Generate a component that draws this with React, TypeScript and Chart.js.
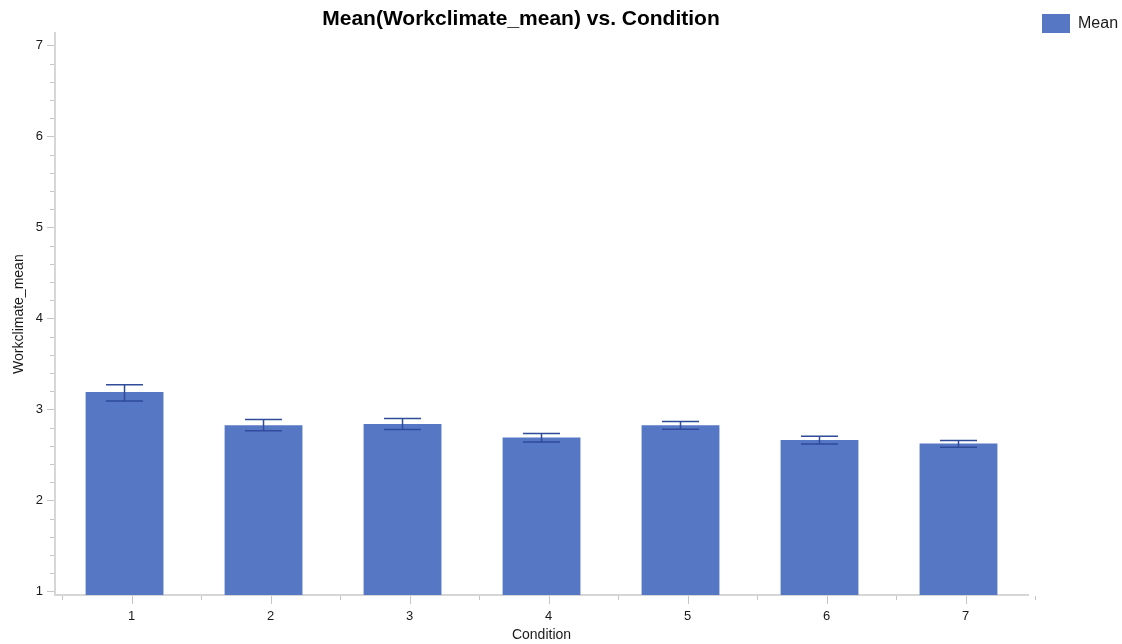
import React, { useEffect, useRef } from "react";
import { Chart, registerables } from "chart.js";

Chart.register(...registerables);

// ---- data ----
const conditions = ["1", "2", "3", "4", "5", "6", "7"];
const meanValues = [3.19, 2.825, 2.84, 2.69, 2.825, 2.663, 2.625];
const upperValues = [3.272, 2.888, 2.899, 2.734, 2.866, 2.706, 2.658];
const lowerValues = [3.093, 2.764, 2.778, 2.643, 2.783, 2.62, 2.585];
const yTickValues = [1, 2, 3, 4, 5, 6, 7];
const yMin = 0.96;
const yMax = 7.135;
const minorPerUnit = 5;

const chartTitle = "Mean(Workclimate_mean) vs. Condition";
const xTitle = "Condition";
const yTitle = "Workclimate_mean";
const seriesLabel = "Mean";

// ---- styles ----
const FONT = "'Liberation Sans', Arial, Helvetica, sans-serif";
const BAR_COLOR = "#5677C4";
const ERR_COLOR = "#2F4B9A";
const AXIS_COLOR = "#D6D6D6";
const TICK_COLOR = "#C6C6C6";
const TEXT_COLOR = "#1A1A1A";
const X_TICK_SHIFT = 7;

const titleSpanPlugin = {
  id: "titleSpan",
  afterLayout(chart: any) {
    const t = chart.titleBlock;
    const lg = chart.legend;
    if (t && lg) {
      t.left = 0;
      t.right = lg.left + lg.options.labels.padding;
      t.width = t.right - t.left;
    }
  },
};

const errorBarPlugin = {
  id: "errorBars",
  afterDatasetsDraw(chart: any) {
    const ctx = chart.ctx;
    const y = chart.scales.y;
    const meta = chart.getDatasetMeta(0);
    ctx.save();
    ctx.strokeStyle = ERR_COLOR;
    ctx.lineWidth = 1.5;
    meta.data.forEach((el: any, i: number) => {
      const cx = el.x;
      const yt = y.getPixelForValue(upperValues[i]);
      const yb = y.getPixelForValue(lowerValues[i]);
      const hw = 18.5;
      ctx.beginPath();
      ctx.moveTo(cx, yt);
      ctx.lineTo(cx, yb);
      ctx.moveTo(cx - hw, yt);
      ctx.lineTo(cx + hw, yt);
      ctx.moveTo(cx - hw, yb);
      ctx.lineTo(cx + hw, yb);
      ctx.stroke();
    });
    ctx.restore();
  },
};

const axisTicksPlugin = {
  id: "axisTicks",
  afterDraw(chart: any) {
    const ctx = chart.ctx;
    const xs = chart.scales.x;
    const ys = chart.scales.y;
    const area = chart.chartArea;
    ctx.save();
    ctx.strokeStyle = TICK_COLOR;
    ctx.lineWidth = 1;
    ctx.beginPath();
    // y minor ticks
    const nStart = Math.ceil(yMin * minorPerUnit);
    const nEnd = Math.floor(yMax * minorPerUnit);
    for (let n = nStart; n <= nEnd; n++) {
      if (n % minorPerUnit === 0) continue;
      const py = Math.round(ys.getPixelForValue(n / minorPerUnit)) + 0.5;
      ctx.moveTo(area.left - 5, py);
      ctx.lineTo(area.left - 1, py);
    }
    // x major ticks
    const yb = area.bottom + 1;
    for (let i = 0; i < conditions.length; i++) {
      const px = Math.round(xs.getPixelForValue(i) + X_TICK_SHIFT) + 0.5;
      ctx.moveTo(px, yb);
      ctx.lineTo(px, yb + 8);
    }
    // x minor ticks at category boundaries
    for (let i = 0; i <= conditions.length; i++) {
      const px = Math.round(xs.getPixelForValue(i - 0.5) + X_TICK_SHIFT) + 0.5;
      ctx.moveTo(px, yb);
      ctx.lineTo(px, yb + 4);
    }
    ctx.stroke();
    ctx.restore();
  },
};

export default function App() {
  const ref = useRef<HTMLCanvasElement>(null);

  useEffect(() => {
    if (!ref.current) return;
    Chart.defaults.font.family = FONT;
    Chart.defaults.color = TEXT_COLOR;
    const chart = new Chart(ref.current, {
      type: "bar",
      data: {
        labels: conditions,
        datasets: [
          {
            label: seriesLabel,
            data: meanValues,
            backgroundColor: BAR_COLOR,
            borderWidth: 0,
            base: yMin,
            barPercentage: 0.56,
            categoryPercentage: 1,
          } as any,
        ],
      },
      options: {
        animation: false,
        responsive: false,
        events: [],
        layout: { padding: { top: 0, right: 4, bottom: 0, left: 0 } },
        plugins: {
          tooltip: { enabled: false },
          title: {
            display: true,
            text: chartTitle,
            color: "#000",
            font: { family: FONT, size: 21, weight: "bold" },
            padding: { top: 7, bottom: 1 },
          },
          legend: {
            display: true,
            position: "right",
            align: "start",
            fullSize: true,
            maxWidth: 90,
            labels: {
              boxWidth: 28,
              boxHeight: 19,
              padding: 14,
              color: TEXT_COLOR,
              font: { family: FONT, size: 16 },
            },
          },
        },
        scales: {
          x: {
            type: "category",
            offset: true,
            grid: {
              display: true,
              drawOnChartArea: false,
              drawTicks: true,
              tickLength: 14,
              tickColor: "rgba(0,0,0,0)",
            },
            border: { display: true, color: AXIS_COLOR, width: 2 },
            ticks: {
              padding: 0,
              labelOffset: X_TICK_SHIFT,
              color: TEXT_COLOR,
              font: { family: FONT, size: 13 },
            },
            title: {
              display: true,
              text: xTitle,
              color: TEXT_COLOR,
              font: { family: FONT, size: 14 },
              padding: { top: 2.1, bottom: 0.5 },
            },
          },
          y: {
            type: "linear",
            min: yMin,
            max: yMax,
            afterBuildTicks: (scale: any) => {
              scale.ticks = yTickValues.map((v) => ({ value: v }));
            },
            grid: {
              display: true,
              drawOnChartArea: false,
              drawTicks: true,
              tickLength: 8,
              tickColor: TICK_COLOR,
            },
            border: { display: true, color: AXIS_COLOR, width: 2 },
            ticks: {
              padding: 4,
              color: TEXT_COLOR,
              font: { family: FONT, size: 13 },
              callback: (v: any) => String(v),
            },
            title: {
              display: true,
              text: yTitle,
              color: TEXT_COLOR,
              font: { family: FONT, size: 14 },
              padding: { top: 11, bottom: 4 },
            },
          },
        },
      },
      plugins: [titleSpanPlugin, errorBarPlugin, axisTicksPlugin],
    });
    return () => chart.destroy();
  }, []);

  return (
    <div style={{ position: "absolute", left: 0, top: 0, width: 1122, height: 644, background: "#fff" }}>
      <canvas ref={ref} width={1122} height={644} style={{ display: "block" }} />
    </div>
  );
}
